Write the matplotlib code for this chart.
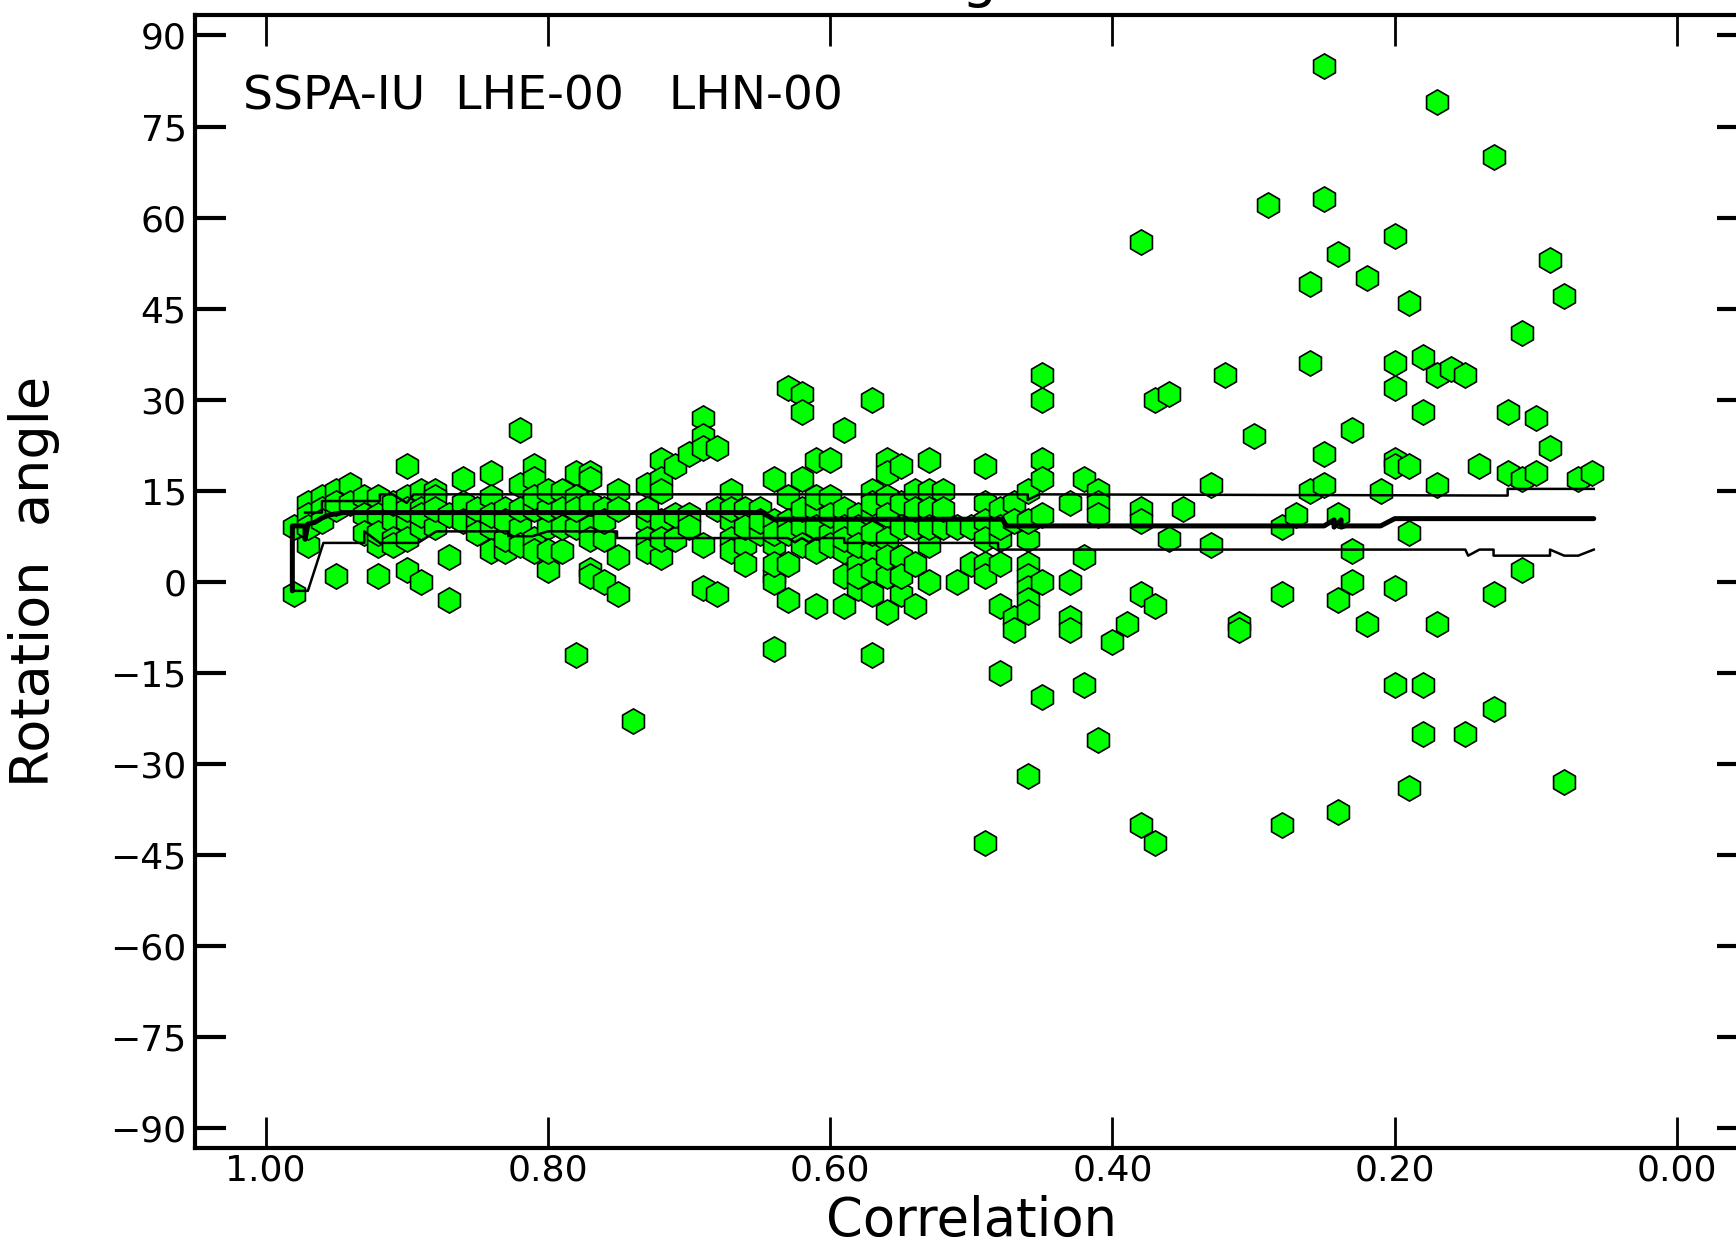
import matplotlib
matplotlib.use("Agg")
import matplotlib.pyplot as plt
import numpy as np

plt.rcParams['font.family'] = ['DejaVu Sans']

# ---- scatter data: correlation value -> list of rotation angles ----
points = {
    0.98: [9, -2],
    0.97: [13, 11, 6, 9],
    0.96: [14, 12, 10],
    0.95: [15, 12, 1, 13],
    0.94: [16, 13],
    0.93: [14, 11, 8],
    0.92: [14, 11, 6, 1, 8],
    0.91: [10, 7, 13, 6],
    0.90: [19, 14, 10, 7, 2, 12],
    0.89: [15, 12, 9, 0, 11],
    0.88: [15, 14, 9, 12],
    0.87: [11, 4, -3],
    0.86: [17, 13, 10],
    0.85: [10, 12, 8],
    0.84: [18, 14, 9, 5, 11],
    0.83: [12, 5, 7, 10],
    0.82: [25, 16, 9, 6, 12],
    0.81: [19, 17, 7, 5, 12, 14],
    0.80: [2, 9, 5, 12, 15],
    0.79: [15, 12, 5, 9],
    0.78: [18, 9, -12, 14, 12],
    0.77: [18, 17, 9, 7, 2, 1, 13],
    0.76: [12, 7, 0, 10],
    0.75: [15, 12, 4, -2],
    0.74: [-23],
    0.73: [16, 10, 7, 5, 12],
    0.72: [20, 17, 15, 10, 4, 7],
    0.71: [19, 7, 11],
    0.70: [21, 11, 9],
    0.69: [27, 24, 22, 6, -1],
    0.68: [22, 12, -2],
    0.67: [15, 10, 7, 5, 12],
    0.66: [12, 6, 3, 9],
    0.65: [12, 8, 10],
    0.64: [17, 10, 6, 1, 0, -11, 8, 3],
    0.63: [32, 14, 10, 3, -3, 8],
    0.62: [31, 28, 17, 9, 6, 12],
    0.61: [20, 12, 5, -4, 14, 9],
    0.60: [20, 14, 8, 11, 6],
    0.59: [25, 12, 5, 1, -4, 9, 7],
    0.58: [11, 9, 3, -1, 6, 1],
    0.57: [30, 15, 11, 5, 2, -2, -12, 8, 13],
    0.56: [20, 18, 14, 11, 7, -5, 1, 4],
    0.55: [19, 13, 9, 4, -2, 1],
    0.54: [15, 3, -4, 9, 12],
    0.53: [20, 15, 12, 6, 0, 9],
    0.52: [15, 9, 12],
    0.51: [9, 0],
    0.50: [3, 9],
    0.49: [19, 13, 10, 7, 3, 1, -43],
    0.48: [12, 7, 3, -4, -15, 9],
    0.47: [13, 10, -6, -8],
    0.46: [15, 7, 3, 1, -1, -3, -5, -32, 10],
    0.45: [34, 30, 20, 17, 11, 0, -19],
    0.43: [13, 0, -6, -8],
    0.42: [17, -17, 4],
    0.41: [15, 13, 11, -26],
    0.40: [-10],
    0.39: [-7],
    0.38: [56, 12, 10, -2, -40],
    0.37: [30, -4, -43],
    0.36: [31, 7],
    0.35: [12],
    0.33: [16, 6],
    0.32: [34],
    0.31: [-7, -8],
    0.30: [24],
    0.29: [62],
    0.28: [9, -2, -40],
    0.27: [11],
    0.26: [49, 36, 15],
    0.25: [85, 63, 21, 16],
    0.24: [54, 11, -3, -38],
    0.23: [25, 5, 0],
    0.22: [50, -7],
    0.21: [15],
    0.20: [57, 36, 32, 20, 19, -1, -17],
    0.19: [46, 19, 8, -34],
    0.18: [37, 28, -17, -25],
    0.17: [79, 34, 16, -7],
    0.16: [35],
    0.15: [34, -25],
    0.14: [19],
    0.13: [70, -2, -21],
    0.12: [28, 18],
    0.11: [41, 17, 2],
    0.10: [27, 18],
    0.09: [53, 22],
    0.08: [47, -33],
    0.07: [17],
    0.06: [18],
}
corr = [c for c, v in points.items() for _ in v]
angle = [a for v in points.values() for a in v]

# ---- running curves ----
mean_c = [0.981, 0.981, 0.972, 0.972, 0.970, 0.965, 0.960, 0.955, 0.945, 0.648, 0.640,
          0.478, 0.475, 0.25, 0.243, 0.243, 0.238, 0.238, 0.235, 0.21, 0.20, 0.059]
mean_a = [-1.5, 9.2, 9.2, 7.0, 9.5, 9.8, 10.5, 11, 11.4, 11.4, 10.3,
          10.3, 9.2, 9.2, 10.2, 9.0, 10.2, 9.0, 9.2, 9.2, 10.4, 10.4]

up_c = [0.972, 0.960, 0.960, 0.919, 0.919, 0.91, 0.90, 0.895, 0.46, 0.46, 0.452,
        0.12, 0.12, 0.059]
up_a = [11.4, 11.4, 13.3, 13.3, 14.4, 14.4, 13.0, 14.4, 14.4, 13.5, 14.4,
        14.2, 15.3, 15.3]

lo_c = [0.981, 0.970, 0.959, 0.930, 0.930, 0.919, 0.892, 0.879, 0.828, 0.828, 0.811,
        0.80, 0.751, 0.751, 0.63, 0.625, 0.62, 0.615, 0.61, 0.59, 0.59, 0.481, 0.481,
        0.150, 0.148, 0.140, 0.130, 0.130, 0.090, 0.090, 0.080, 0.070, 0.059]
lo_a = [-1.5, -1.5, 6.4, 6.4, 8.3, 6.4, 6.4, 8.3, 8.3, 7.5, 7.5,
        8.3, 8.3, 7.2, 7.2, 6.5, 7.2, 6.5, 7.2, 7.2, 6.4, 6.4, 5.3,
        5.3, 4.3, 5.3, 5.3, 4.3, 4.3, 5.3, 4.3, 4.3, 5.3]

xticks = [1.0, 0.8, 0.6, 0.4, 0.2, 0.0]
xticklabels = ["1.00", "0.80", "0.60", "0.40", "0.20", "0.00"]
yticks = list(range(-90, 91, 15))
yticklabels = [str(v).replace('-', '\u2212') for v in yticks]

fig = plt.figure(figsize=(17.36, 12.46), dpi=100)
ax = fig.add_axes([0.1123, 0.0786, 0.8944, 0.909])

ax.scatter(corr, angle, s=330, marker='h', facecolor='#00ff00', edgecolor='black',
           linewidths=1.2, zorder=2)
ax.plot(up_c, up_a, color='black', lw=1.8, zorder=3)
ax.plot(lo_c, lo_a, color='black', lw=1.8, zorder=3)
ax.plot(mean_c, mean_a, color='black', lw=3.6, zorder=4, solid_capstyle='round')

ax.set_xlim(1.05, -0.05)
ax.set_ylim(-93.3, 93.3)
ax.set_xticks(xticks)
ax.set_xticklabels(xticklabels, fontsize=26)
ax.set_yticks(yticks)
ax.set_yticklabels(yticklabels, fontsize=26)
ax.tick_params(axis='x', direction='in', length=22, width=2.0, top=True, pad=4)
ax.tick_params(axis='y', direction='in', length=22, width=3.0, right=True, pad=6)
for sp in ax.spines.values():
    sp.set_linewidth(3.0)

ax.set_xlabel("Correlation", fontsize=38, labelpad=5)
ax.set_ylabel("Rotation  angle", fontsize=39, labelpad=36)

ax.text(0.031, 0.928, "SSPA-IU  LHE-00   LHN-00", transform=ax.transAxes,
        fontsize=34, va='center', ha='left')

# partially visible title (clipped by the top edge of the picture)
fig.text(0.5645, 1.0032, "g", fontsize=40, ha='center', va='baseline')

fig.savefig("out.png", dpi=100)
